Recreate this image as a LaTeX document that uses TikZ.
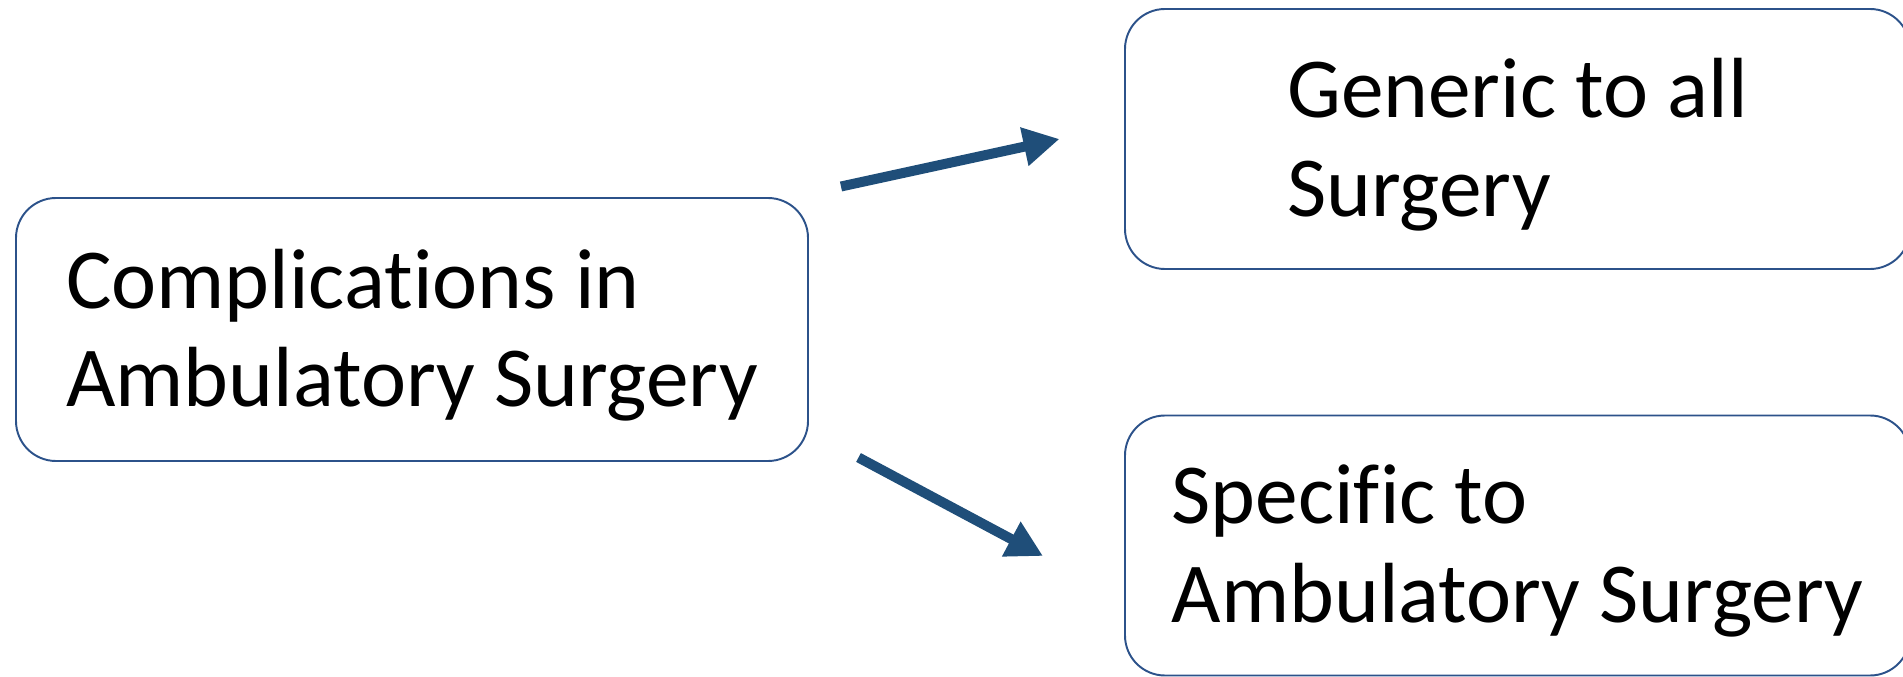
\documentclass[tikz,border=0pt]{standalone}
\usepackage{fontspec}
\setmainfont{Carlito}[Ligatures={NoCommon}]
\usetikzlibrary{arrows.meta,positioning}
\definecolor{boxcolor}{RGB}{44,82,138}
\definecolor{arrowcolor}{RGB}{31,78,121}

\begin{document}
\begin{tikzpicture}[
    box/.style={rectangle, draw=boxcolor, line width=1.1pt, rounded corners=0.8cm},
    mainbox/.style={box, minimum width=15.84cm, minimum height=5.26cm},
    subbox/.style={box, minimum width=15.7cm, minimum height=5.2cm},
    boxtext/.style={align=left, font=\fontsize{48.6}{56}\selectfont, inner sep=0pt, yshift=-0.11cm},
    arrow/.style={-{Triangle[length=0.72cm, width=0.74cm]}, line width=0.2cm, draw=arrowcolor}
]
\clip (0,0) rectangle (38.06,-13.54);

% Boxes
\node[mainbox] (compl) at (8.24,-6.59) {};
\node[subbox] (generic) at (30.35,-2.78) {};
\node[subbox] (specific) at (30.35,-10.91) {};

% Box texts
\node[boxtext] (compl text) at (compl.center) {Complications in\\Ambulatory Surgery};
\node[boxtext] (generic text) at (generic.center) {Generic to all\\Surgery};
\node[boxtext] (specific text) at (specific.center) {Specific to\\Ambulatory Surgery};

% Arrow ends
\coordinate (up start) at (16.82,-3.73);
\coordinate (up end) at (21.19,-2.78);
\coordinate (down start) at (17.17,-9.15);
\coordinate (down end) at (20.86,-11.12);

% Arrows
\draw[arrow] (up start) -- (up end);
\draw[arrow] (down start) -- (down end);

\end{tikzpicture}
\end{document}
